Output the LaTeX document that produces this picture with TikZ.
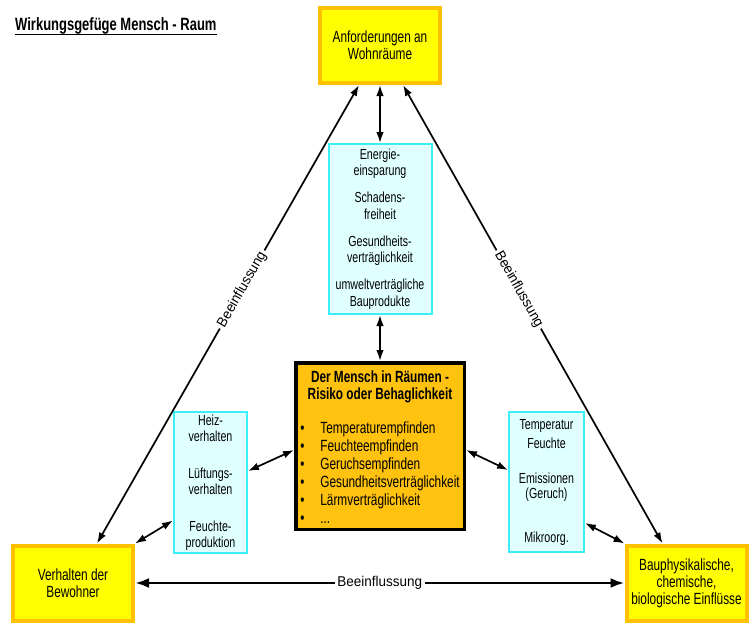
\documentclass[tikz,border=0pt]{standalone}
\usepackage{fontspec}
\setmainfont{Liberation Sans}[FakeStretch=0.73]
\newfontfamily\labelfont{Liberation Sans}[FakeStretch=0.95]
\usetikzlibrary{positioning,calc,arrows.meta}
\definecolor{gelb}{RGB}{255,255,0}
\definecolor{orangerand}{RGB}{255,192,0}
\definecolor{kernfarbe}{RGB}{255,194,14}
\definecolor{tuerkis}{RGB}{60,238,248}
\definecolor{hellblau}{RGB}{224,255,255}
\tikzstyle{ecke} = [draw=orangerand, fill=gelb, line width=4pt, minimum width=120pt, minimum height=75pt, inner sep=0pt, align=center, font=\fontsize{16.2}{17}\selectfont]
\tikzstyle{liste} = [draw=tuerkis, fill=hellblau, line width=2pt, inner sep=0pt, align=center, font=\fontsize{14.6}{16.5}\selectfont]
\tikzstyle{kern} = [draw=black, fill=kernfarbe, line width=3.5pt, minimum width=168.5pt, minimum height=166.5pt, inner sep=0pt, align=center, font=\fontsize{16.2}{17}\selectfont]
\tikzstyle{pfeil} = [<->, >={Latex[length=11pt,width=7.5pt]}, line width=1.7pt]
\tikzstyle{wirkt} = [<->, >={Latex[length=14pt,width=10pt]}, line width=2.8pt]
\tikzstyle{lbl} = [fill=white, inner sep=2.5pt, font=\labelfont\fontsize{14.2}{16}\selectfont]

\begin{document}
\begin{tikzpicture}[x=1pt, y=-1pt]
	\useasboundingbox (0,0) rectangle (751,626);
	\node (titel) [anchor=base west, inner sep=0pt, font=\bfseries\fontsize{17.8}{18}\selectfont] at (15,31) {Wirkungsgefüge Mensch - Raum};
	\draw [line width=1.7pt] ([yshift=-3.5pt]titel.base west) -- ([yshift=-3.5pt]titel.base east);
	% Ecken des Dreiecks
	\node (anf) [ecke] at (380,45.5) {Anforderungen an\\Wohnräume};
	\node (bewohner) [ecke] at (73,583) {Verhalten der\\Bewohner};
	\node (einfl) [ecke] at (686.5,583) {Bauphysikalische,\\chemische,\\biologische Einflüsse};
	% Mitte
	\node (ziele) [liste, minimum width=103pt, minimum height=170pt, below=58pt of anf] {Energie-\\einsparung\\[10.5pt]Schadens-\\freiheit\\[10.5pt]Gesundheits-\\verträglichkeit\\[10.5pt]umweltverträgliche\\Bauprodukte};
	\node (mensch) [kern, below=46pt of ziele] {\rule{0pt}{20pt}\textbf{Der Mensch in Räumen -}\\\textbf{Risiko oder Behaglichkeit}\\[17pt]%
		\fontsize{16.2}{18}\selectfont\begin{tabular}[t]{@{}l@{\hspace{16pt}}l@{}}
		\textbullet & Temperaturempfinden\\
		\textbullet & Feuchteempfinden\\
		\textbullet & Geruchsempfinden\\
		\textbullet & Gesundheitsverträglichkeit\\
		\textbullet & Lärmverträglichkeit\\
		\textbullet & ...
		\end{tabular}};
	\node (verh) [liste, minimum width=73pt, minimum height=141pt] at (210.5,482.5) {Heiz-\\verhalten\\[20pt]Lüftungs-\\verhalten\\[20pt]Feuchte-\\produktion};
	\node (umwelt) [liste, minimum width=75pt, minimum height=140pt] at (546.5,482) {Temperatur\\[2.5pt]Feuchte\\[18.5pt]Emissionen\\[-1.5pt](Geruch)\\[27.5pt]Mikroorg.};
	% Beeinflussung
	\draw [pfeil] ([xshift=-21pt]anf.south) -- node [lbl, sloped, pos=0.446] {Beeinflussung} ([xshift=24pt]bewohner.north);
	\draw [pfeil] ([xshift=23pt]anf.south) -- node [lbl, sloped, pos=0.446] {Beeinflussung} ([xshift=-24pt]einfl.north);
	\draw [wirkt] (bewohner.east) -- node [lbl] {Beeinflussung} (einfl.west);
	\draw [pfeil] (anf.south) -- (ziele.north);
	\draw [pfeil] (ziele.south) -- (mensch.north);
	\draw [pfeil] ([yshift=-4pt]mensch.west) -- ([yshift=11.5pt]verh.east);
	\draw [pfeil] ([yshift=-4pt]mensch.east) -- ([yshift=12pt]umwelt.west);
	\draw [pfeil] ([yshift=-38pt]verh.west) -- (bewohner.north east);
	\draw [pfeil] ([yshift=-41pt]umwelt.east) -- (einfl.north west);
\end{tikzpicture}
\end{document}
